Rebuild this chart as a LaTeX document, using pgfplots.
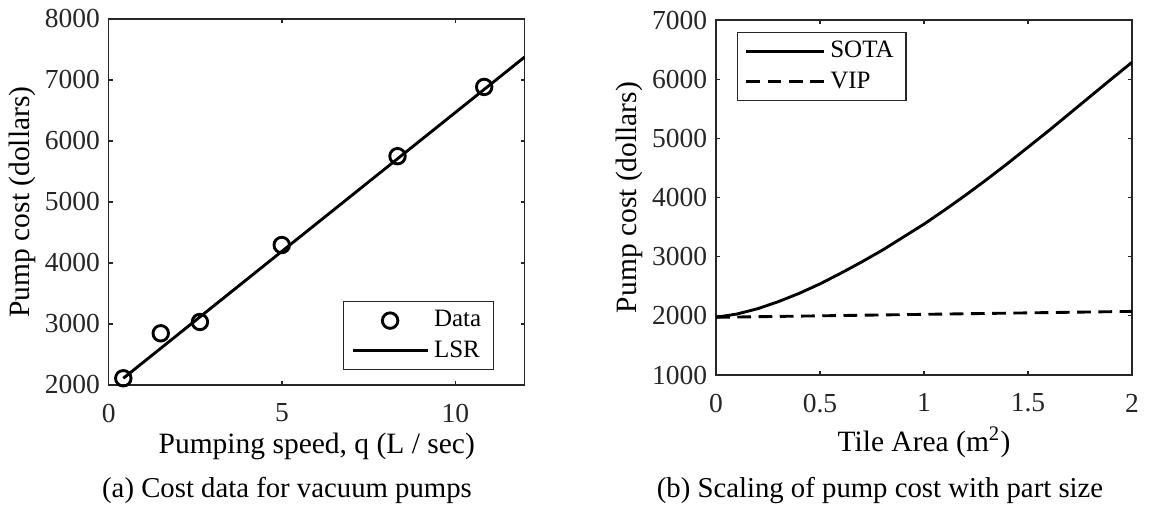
\documentclass[border=0pt]{standalone}
\usepackage{fontspec}
\setmainfont{Liberation Serif}
\usepackage{pgfplots}
\pgfplotsset{compat=1.18}
\definecolor{axgray}{RGB}{38,38,38}

% matlab-like look, 1px of the reference = 0.4pt
\pgfplotsset{
  mlab/.style={
    scale only axis,
    axis line style={axgray, line width=0.5pt},
    every tick/.style={axgray, line width=0.5pt},
    tick align=inside,
    major tick length=1.7pt,
    tick label style={font=\fontsize{11}{13}\selectfont, text=axgray},
    xticklabel style={yshift=-4pt},
    label style={font=\fontsize{11.8}{14}\selectfont, text=black},
    /pgf/number format/assume math mode=true,
    /pgf/number format/1000 sep={},
    scaled ticks=false,
    legend style={font=\fontsize{10}{12}\selectfont, draw=axgray, line width=0.5pt,
      inner xsep=3pt, inner ysep=1.5pt},
    legend cell align=left,
  },
  markleg/.style={legend image code/.code={\draw[##1] plot coordinates {(15pt,0pt)};}},
  lineleg/.style={legend image code/.code={\draw[##1] (0pt,0pt) -- (#1,0pt);}},
}

\begin{document}
\begin{tikzpicture}
\useasboundingbox (0,0) rectangle (460pt,-207.6pt);

\begin{axis}[mlab,
  at={(43.5pt,-7.6pt)}, anchor=north west,
  width=166.4pt, height=146.4pt,
  xmin=0, xmax=12, ymin=2000, ymax=8000,
  xtick={0,5,10}, ytick={2000,3000,...,8000},
  xlabel={Pumping speed, q (L / sec)},
  ylabel={Pump cost (dollars)},
  xlabel style={at={(axis description cs:0.5,-0.168)}, anchor=center},
  ylabel style={at={(axis description cs:-0.208,0.5)}, anchor=center},
  legend style={at={(0.927,0.04)}, anchor=south east},
]
\addplot[only marks, mark=o, mark size=3.1pt, line width=1.15pt, black, markleg]
  coordinates {(0.42,2110) (1.50,2847) (2.63,3033) (4.99,4294) (8.33,5751) (10.83,6886)};
\addlegendentry{Data}
\addplot[black, line width=1.15pt, lineleg=30pt]
  coordinates {(0.42,2110) (12,7378)};
\addlegendentry{LSR}
\end{axis}

\begin{axis}[mlab,
  at={(286.4pt,-8pt)}, anchor=north west,
  width=166.4pt, height=142pt,
  xmin=0, xmax=2, ymin=1000, ymax=7000,
  xtick={0,0.5,...,2}, ytick={1000,2000,...,7000},
  xlabel={Tile Area (m\textsuperscript{2})},
  ylabel={Pump cost (dollars)},
  xlabel style={at={(axis description cs:0.5,-0.19)}, anchor=center},
  ylabel style={at={(axis description cs:-0.207,0.5)}, anchor=center},
  legend style={at={(0.05,0.966)}, anchor=north west},
]
\addplot[black, line width=1.15pt, lineleg=31pt] coordinates {
  (0,1975) (0.1,2030) (0.2,2120) (0.3,2240) (0.4,2380) (0.5,2540)
  (0.6,2720) (0.7,2910) (0.8,3110) (0.9,3330) (1.0,3550) (1.1,3790)
  (1.2,4040) (1.3,4300) (1.4,4570) (1.5,4850) (1.6,5130) (1.7,5420)
  (1.8,5710) (1.9,6000) (2.0,6285)};
\addlegendentry{SOTA}
\addplot[black, line width=1.15pt, dash pattern=on 5.5pt off 3pt, lineleg=31pt] coordinates {
  (0,1975) (0.5,2000) (1.0,2025) (1.5,2050) (2.0,2075)};
\addlegendentry{VIP}
\end{axis}

\node[font=\fontsize{11.5}{14}\selectfont] at (114.8pt,-196pt) {(a) Cost data for vacuum pumps};
\node[font=\fontsize{11.5}{14}\selectfont] at (352pt,-196pt) {(b) Scaling of pump cost with part size};
\end{tikzpicture}
\end{document}
